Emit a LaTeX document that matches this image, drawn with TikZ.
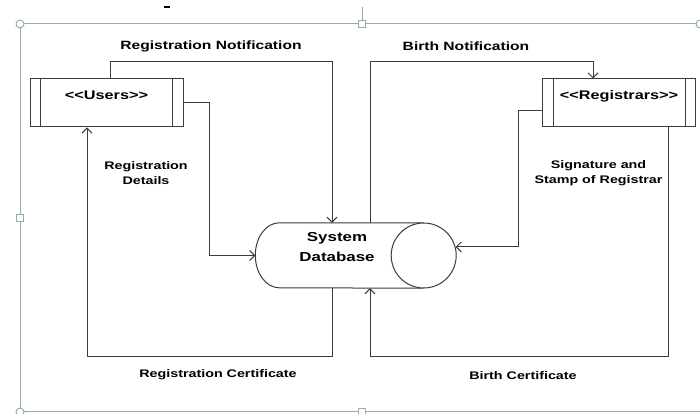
\documentclass[tikz,border=0pt]{standalone}
\usepackage{fontspec}
\newfontfamily\diafont{Liberation Sans}[FakeStretch=1.3]
\usetikzlibrary{arrows.meta, positioning, calc}
\definecolor{framecol}{RGB}{150,172,178}
\definecolor{linecol}{RGB}{60,60,60}
\tikzset{arrow/.style={draw=linecol, line width=1pt, ->, >={Straight Barb[length=5pt,width=10pt]}}}
\tikzset{line/.style={draw=linecol, line width=1pt}}

\begin{document}
\begin{tikzpicture}[x=1pt, y=1pt,
    actor/.style={rectangle, line, fill=white, minimum width=153pt, minimum height=48pt, inner sep=0pt, text depth=16pt, font=\diafont\bfseries\fontsize{12.5}{15}\selectfont},
    dbbody/.style={rectangle, minimum width=201pt, minimum height=65pt, inner sep=0pt},
    dbend/.style={circle, line, fill=white, minimum size=65pt, inner sep=0pt},
    dblabel/.style={align=center, font=\diafont\bfseries\fontsize{13}{20}\selectfont},
    flowlabel/.style={align=center, font=\diafont\bfseries\fontsize{11}{15}\selectfont},
    toplabel/.style={font=\diafont\bfseries\fontsize{12}{14}\selectfont},
    frame/.style={draw=framecol, line width=1pt},
    handle/.style={frame, fill=white, inner sep=0pt, minimum size=7pt}
]
    \useasboundingbox (0,0) rectangle (700,414);

    % Frame of the canvas
    \draw[frame] (700,390) -- (20,390) -- (20,2) -- (700,2);
    \draw[frame] (362,394) -- (362,407);
    \node[handle, circle, minimum size=8pt] (h1) at (20,390) {};
    \node[handle, circle, minimum size=8pt] (h2) at (20,2) {};
    \node[handle, circle, minimum size=8pt] (h3) at (700,390) {};
    \node[handle] (h4) at (362,390) {};
    \node[handle] (h5) at (20,196) {};
    \node[handle] (h6) at (362,2) {};
    \draw[line width=2pt] (164,407) -- (170,407);

    % Actors
    \node[actor] (users) at (106.5,311) {<<Users>>};
    \node[actor] (registrars) at (619,311) {<<Registrars>>};
    \foreach \n in {users, registrars} {
        \draw[line] ([xshift=11pt]\n.north west) -- ([xshift=11pt]\n.south west);
        \draw[line] ([xshift=-11pt]\n.north east) -- ([xshift=-11pt]\n.south east);
    }

    % Database
    \node[dbbody] (db) at (356,158.5) {};
    \draw[line] ($(db.north east)+(-33,0)$) -- ($(db.north west)+(24,0)$)
        arc[start angle=90, end angle=270, x radius=24pt, y radius=32.5pt]
        -- ($(db.south east)+(-33,0)$);
    \node[dbend] (dbend) at ($(db.east)+(-33,0)$) {};
    \node[dblabel] (dbtext) at ([xshift=-19pt, yshift=8pt]db.center) {System\\Database};

    % Flows
    \draw[arrow] ([xshift=4pt]users.north) -- ++(0,17) -| ([xshift=-24pt]db.north);
    \draw[arrow] (users.east) -- ++(26,0) |- (db.west);
    \draw[arrow] ([xshift=-24pt]db.south) -- ++(0,-68) -| ([xshift=-19.5pt]users.south);
    \draw[arrow] ([xshift=14pt]db.north) -- ++(0,161) -| ([xshift=-26pt]registrars.north);
    \draw[arrow] ([yshift=-8pt]registrars.west) -- ++(-24,0) |- (dbend.15);
    \draw[arrow] ([xshift=49pt]registrars.south) -- ++(0,-229) -| ([xshift=14pt]db.south);

    % Flow labels
    \node[toplabel] (l1) at (211,368) {Registration Notification};
    \node[toplabel] (l2) at (466,368) {Birth Notification};
    \node[flowlabel] (l3) at (146,240.5) {Registration\\Details};
    \node[flowlabel] (l4) at (598.5,241) {Signature and\\Stamp of Registrar};
    \node[flowlabel] (l5) at (218,39) {Registration Certificate};
    \node[flowlabel] (l6) at (523,38) {Birth Certificate};
\end{tikzpicture}
\end{document}
